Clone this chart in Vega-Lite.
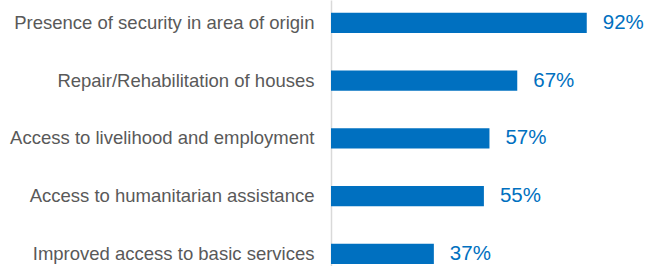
{
  "$schema": "https://vega.github.io/schema/vega-lite/v6.json",
  "width": 278,
  "height": 266,
  "autosize": {"type": "none"},
  "padding": {"left": 331, "top": 0, "right": 39, "bottom": 0},
  "background": "white",
  "config": {"view": {"stroke": null}, "font": "Liberation Sans"},
  "data": {"values": [
    {"factor": "Presence of security in area of origin", "pct": 0.92},
    {"factor": "Repair/Rehabilitation of houses", "pct": 0.67},
    {"factor": "Access to livelihood and employment", "pct": 0.57},
    {"factor": "Access to humanitarian assistance", "pct": 0.55},
    {"factor": "Improved access to basic services", "pct": 0.37}
  ]},
  "encoding": {
    "y": {"field": "factor", "type": "nominal", "sort": null,
      "scale": {"paddingInner": 0.65, "paddingOuter": 0.128, "align": 0.86},
      "axis": {"title": null, "ticks": false, "domainColor": "#d9d9d9", "domainWidth": 1.5,
        "labelFontSize": 18.5, "labelColor": "#595959", "labelPadding": 17, "labelLimit": 400}},
    "x": {"field": "pct", "type": "quantitative", "scale": {"domain": [0, 1]}, "axis": null}
  },
  "layer": [
    {"mark": {"type": "bar", "color": "#0070C0"}},
    {"mark": {"type": "text", "align": "left", "dx": 16, "fontSize": 20.5, "color": "#0070C0"},
     "encoding": {"text": {"field": "pct", "type": "quantitative", "format": ".0%"}}}
  ]
}
